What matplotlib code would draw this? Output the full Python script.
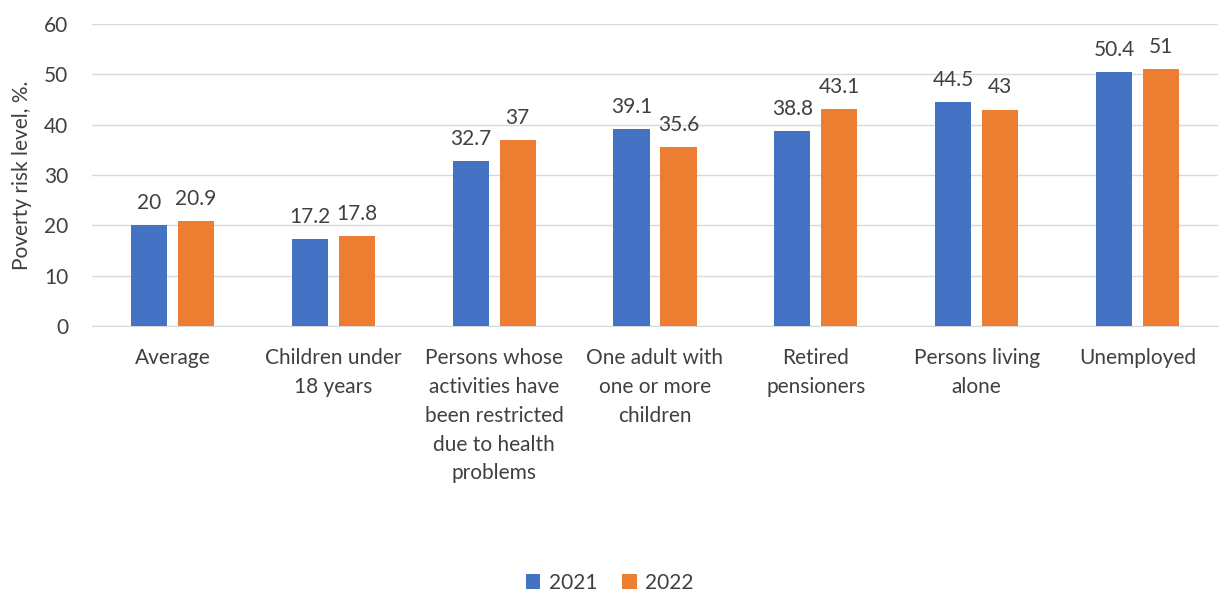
import matplotlib.pyplot as plt
import numpy as np

# categories and values
categories = ["Average", "Children under\n18 years",
              "Persons whose\nactivities have\nbeen restricted\ndue to health\nproblems",
              "One adult with\none or more\nchildren", "Retired\npensioners",
              "Persons living\nalone", "Unemployed"]
vals_2021 = [20, 17.2, 32.7, 39.1, 38.8, 44.5, 50.4]
vals_2022 = [20.9, 17.8, 37, 35.6, 43.1, 43, 51]
labels_2021 = ["20", "17.2", "32.7", "39.1", "38.8", "44.5", "50.4"]
labels_2022 = ["20.9", "17.8", "37", "35.6", "43.1", "43", "51"]

plt.rcParams['font.family'] = ['Lato', 'DejaVu Sans']
fs = 15
txt = "#404040"

fig = plt.figure(figsize=(12.19, 5.91), dpi=100)
ax = fig.add_axes([92/1219, 1 - 326/591, (1218 - 92)/1219, (326 - 24)/591])

x = np.arange(len(categories))
w = 0.224
off = 0.146
b1 = ax.bar(x - off, vals_2021, w, color="#4472C4", label="2021", zorder=3)
b2 = ax.bar(x + off, vals_2022, w, color="#ED7D31", label="2022", zorder=3)

for bars, labs in [(b1, labels_2021), (b2, labels_2022)]:
    for b, t in zip(bars, labs):
        ax.text(b.get_x() + b.get_width()/2, b.get_height() + 2.4, t,
                ha="center", va="bottom", fontsize=fs, color=txt)

ax.set_xlim(-0.5, len(categories) - 0.5)
ax.set_ylim(0, 60)
ax.set_yticks(range(0, 61, 10))
ax.yaxis.grid(True, color="#D9D9D9", linewidth=1, zorder=0)
ax.set_xticks(x)
ax.set_xticklabels(categories, fontsize=fs, color=txt, va="top", linespacing=1.55)
ax.tick_params(axis="x", length=0, pad=16)
ax.tick_params(axis="y", length=0, labelsize=fs, labelcolor=txt, pad=17)
for s in ["top", "right", "left"]:
    ax.spines[s].set_visible(False)
ax.spines["bottom"].set_color("#D9D9D9")
ax.set_ylabel("Poverty risk level, %.", fontsize=fs, color=txt, labelpad=9)

fig.legend(loc="center", bbox_to_anchor=(0.5, 1 - 583/591), ncol=2, frameon=False,
           fontsize=fs, handlelength=0.7, handleheight=0.7, columnspacing=1.2,
           handletextpad=0.4, labelcolor=txt)

fig.savefig("out.png", dpi=100)
